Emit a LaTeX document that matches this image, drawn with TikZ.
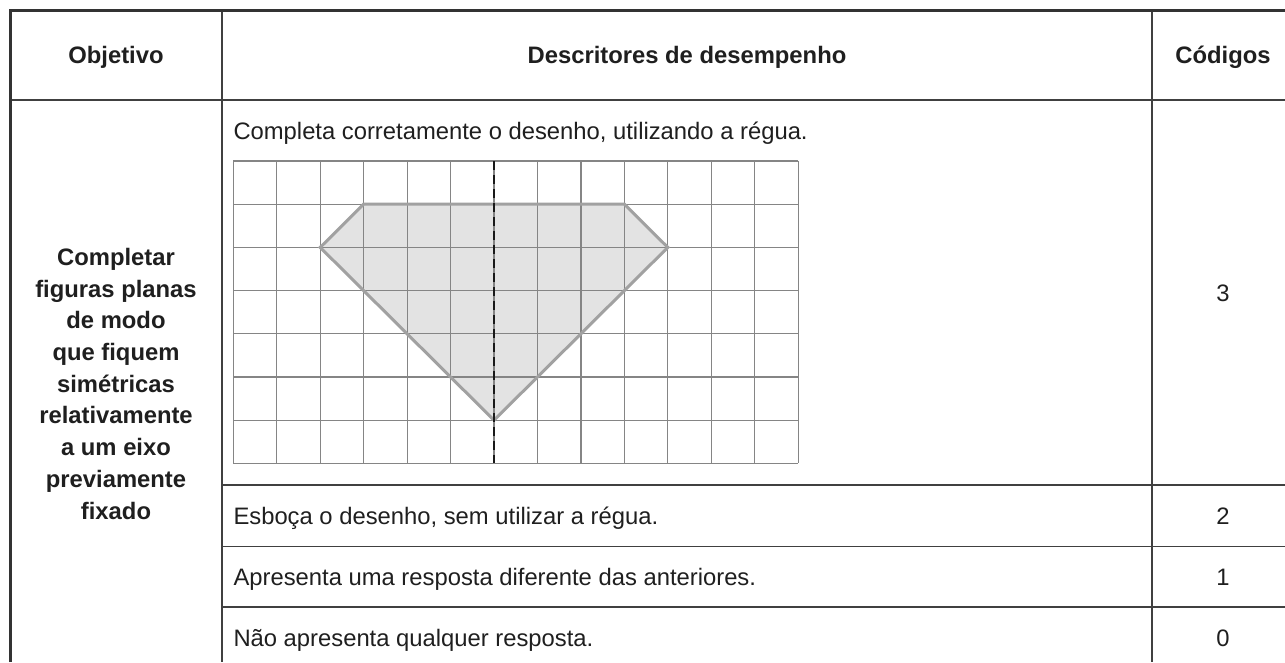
\documentclass[tikz,border=0pt]{standalone}
\usepackage{fontspec}
\setmainfont{Liberation Sans}
\begin{document}
\begin{tikzpicture}[x=1pt,y=-1pt,
  outer/.style={line width=3pt,draw=black!80},
  rule/.style={line width=1.5pt,draw=black!75},
  gridline/.style={line width=1.2pt,draw=black!48},
  shapeline/.style={line width=3pt,draw=black!37,line join=miter},
  axisline/.style={line width=2.8pt,draw=black!90,dash pattern=on 9pt off 5pt},
  txt/.style={font=\fontsize{23.8}{31.7}\selectfont,inner sep=0pt,text=black!88},
  hd/.style={txt,font=\fontsize{23.8}{31.7}\selectfont\bfseries}]
\useasboundingbox (0,0) rectangle (1285,662);
\fill[white] (0,0) rectangle (1285,662);
% table rules
\draw[rule] (222,10) -- (222,662);
\draw[rule] (1152,10) -- (1152,662);
\draw[rule] (10,100) -- (1285,100);
\draw[rule] (222,485) -- (1285,485);
\draw[rule] (222,546.5) -- (1285,546.5);
\draw[rule] (222,607) -- (1285,607);
\draw[outer] (10,662) -- (10,10) -- (1285,10);
% headers
\node[hd,anchor=base] (hobj) at (116,63.5) {Objetivo};
\node[hd,anchor=base] (hdesc) at (687,63.5) {Descritores de desempenho};
\node[hd,anchor=base] (hcod) at (1223,63.5) {Códigos};
% objective
\node[hd,align=center,anchor=north] (obj) at (116,248) {Completar\\figuras planas\\de modo\\que fiquem\\simétricas\\relativamente\\a um eixo\\previamente\\fixado};
% descriptors
\node[txt,anchor=base west] (d1) at (233.3,139.5) {Completa corretamente o desenho, utilizando a régua.};
\node[txt,anchor=base west] (d2) at (233.3,524.3) {Esboça o desenho, sem utilizar a régua.};
\node[txt,anchor=base west] (d3) at (233.3,585.5) {Apresenta uma resposta diferente das anteriores.};
\node[txt,anchor=base west] (d4) at (233.3,646) {Não apresenta qualquer resposta.};
% codes
\node[txt,anchor=base] (c3) at (1223,301) {3};
\node[txt,anchor=base] (c2) at (1223,524.3) {2};
\node[txt,anchor=base] (c1) at (1223,585.5) {1};
\node[txt,anchor=base] (c0) at (1223,646) {0};
% grid figure
\begin{scope}[shift={(233.3,161)}, x=43.45pt, y=-43.2pt]
  \fill[black!11] (3,1) -- (9,1) -- (10,2) -- (6,6) -- (2,2) -- cycle;
  \foreach \i in {0,...,13} \draw[gridline] (\i,0) -- (\i,7);
  \foreach \j in {0,...,7} \draw[gridline] (0,\j) -- (13,\j);
  \draw[shapeline] (3,1) -- (9,1) -- (10,2) -- (6,6) -- (2,2) -- cycle;
  \draw[axisline] (6,0) -- (6,7);
\end{scope}
\end{tikzpicture}
\end{document}
